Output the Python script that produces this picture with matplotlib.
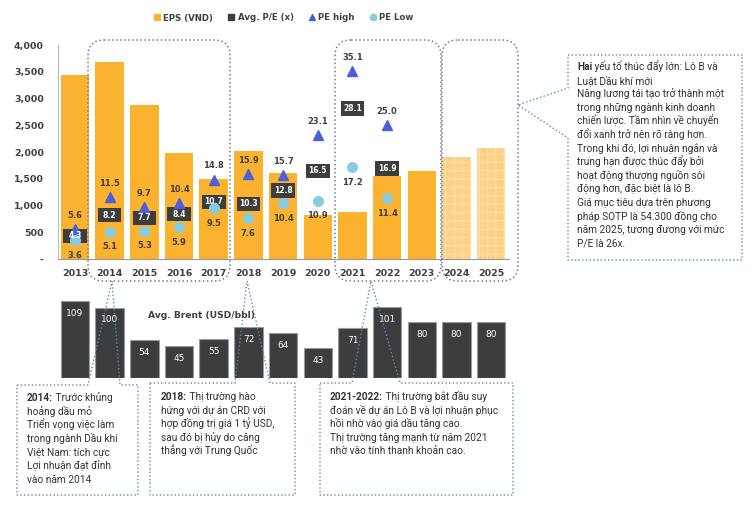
import matplotlib.pyplot as plt
import numpy as np
from matplotlib.lines import Line2D
from matplotlib.patches import FancyBboxPatch, Polygon

plt.rcParams["font.family"] = ["DejaVu Sans"]
plt.rcParams["hatch.linewidth"] = 0.6

years = ["2013", "2014", "2015", "2016", "2017", "2018", "2019",
         "2020", "2021", "2022", "2023", "2024", "2025"]
eps = [3440, 3680, 2880, 1990, 1500, 2010, 1600, 820, 880, 1550, 1650, 1900, 2070]
forecast = [False] * 11 + [True, True]

pe_high = [5.6, 11.5, 9.7, 10.4, 14.8, 15.9, 15.7, 23.1, 35.1, 25.0]
pe_avg = [4.3, 8.2, 7.7, 8.4, 10.7, 10.3, 12.8, 16.5, 28.1, 16.9]
pe_low = [3.6, 5.1, 5.3, 5.9, 9.5, 7.6, 10.4, 10.9, 17.2, 11.4]

brent = [109, 100, 54, 45, 55, 72, 64, 43, 71, 101, 80, 80, 80]

note_2014 = ["Trước khủng", "hoảng dầu mỏ", "Triển vọng việc làm",
             "trong ngành Dầu khí", "Việt Nam: tích cực", "Lợi nhuận đạt đỉnh",
             "vào năm 2014"]
note_2018 = ["Thị trường hào", "hứng với dự án CRD với", "hợp đồng trị giá 1 tỷ USD,",
             "sau đó bị hủy do căng", "thẳng với Trung Quốc"]
note_2021 = ["Thị trường bắt đầu suy", "đoán về dự án Lô B và lợi nhuận phục",
             "hồi nhờ vào giá dầu tăng cao.", "Thị trường tăng mạnh từ năm 2021",
             "nhờ vào tính thanh khoản cao."]
note_right = ["yếu tố thúc đẩy lớn: Lô B và", "Luật Dầu khí mới",
              "Năng lương tái tạo trở thành một", "trong những ngành kinh doanh",
              "chiến lược. Tầm nhìn về chuyển", "đổi xanh trở nên rõ ràng hơn.",
              "Trong khi đó, lợi nhuận ngắn và", "trung hạn được thúc đẩy bởi",
              "hoạt động thượng nguồn sôi", "động hơn, đặc biệt là lô B.",
              "Giá mục tiêu dựa trên phương", "pháp SOTP là 54.300 đồng cho",
              "năm 2025, tương đương với mức", "P/E là 26x."]

ORANGE = "#FBB22E"
LIGHT_ORANGE = "#FDD185"
DARK = "#3D3D3D"
BLUE = "#4A5FE0"
CYAN = "#86CCE0"
TEXT = "#404040"
DOT = "#5E86C0"
NOTE_FONT = ["Roboto", "Noto Sans", "DejaVu Sans"]

W, H = 755, 525
fig = plt.figure(figsize=(W / 100, H / 100), dpi=100)

x = np.arange(len(years))
xlim = (-0.5, len(years) - 0.5)

# top chart: EPS bars + P/E markers
ax = fig.add_axes([57.6 / W, 1 - 259 / H, 451 / W, 214 / H])
for xi, val, fc in zip(x, eps, forecast):
    if fc:
        ax.bar(xi, val, width=0.82, color=LIGHT_ORANGE, edgecolor="#FFE6B8",
               linewidth=0, hatch="++", zorder=2)
    else:
        ax.bar(xi, val, width=0.82, color=ORANGE, linewidth=0, zorder=2)
ax.set_xlim(*xlim)
ax.set_ylim(0, 4000)
ax.set_yticks(range(0, 4001, 500))
ax.set_yticklabels(["-"] + [f"{v:,}" for v in range(500, 4001, 500)])
ax.set_xticks(x)
ax.set_xticklabels(years)
ax.tick_params(axis="both", length=0, labelsize=6.8, colors=TEXT)
ax.tick_params(axis="x", pad=7)
ax.tick_params(axis="y", pad=10)
for lab in ax.get_xticklabels() + ax.get_yticklabels():
    lab.set_fontweight("bold")
for side in ["top", "right"]:
    ax.spines[side].set_visible(False)
ax.spines["left"].set_color("#BBBBBB")
ax.spines["bottom"].set_color("#999999")

ax2 = ax.twinx()
ax2.set_ylim(0, 40)
ax2.set_xlim(*xlim)
ax2.axis("off")
px = x[:len(pe_avg)]
box_h = 2.7
ax2.bar(px, [box_h] * len(pe_avg), bottom=[v - box_h / 2 for v in pe_avg],
        width=0.68, color=DARK, zorder=3)
ax2.plot(px, pe_high, "^", color=BLUE, markersize=7, zorder=4)
ax2.plot(px, pe_low, "o", color=CYAN, markersize=7, zorder=4)
for xi, hi, av, lo in zip(px, pe_high, pe_avg, pe_low):
    ax2.annotate(f"{hi:.1f}", (xi, hi), xytext=(0, 10), textcoords="offset points",
                 ha="center", va="center", fontsize=6, fontweight="bold", color=TEXT)
    ax2.text(xi, av, f"{av:.1f}", ha="center", va="center", fontsize=5.5,
             fontweight="bold", color="white", zorder=5)
    ax2.annotate(f"{lo:.1f}", (xi, lo), xytext=(0, -11), textcoords="offset points",
                 ha="center", va="center", fontsize=6, fontweight="bold", color=TEXT)

handles = [
    Line2D([], [], marker="s", ls="none", color=ORANGE, markersize=5),
    Line2D([], [], marker="s", ls="none", color=DARK, markersize=5),
    Line2D([], [], marker="^", ls="none", color=BLUE, markersize=4.5),
    Line2D([], [], marker="o", ls="none", color=CYAN, markersize=4.5),
]
fig.legend(handles, ["EPS (VND)", "Avg. P/E (x)", "PE high", "PE Low"],
           loc="center", bbox_to_anchor=(283 / W, 1 - 18 / H), ncol=4,
           frameon=False, handletextpad=0.25, columnspacing=1.6,
           handlelength=1.0, labelcolor=TEXT, prop={"weight": "bold", "size": 6.2})

# bottom chart: Brent
axb = fig.add_axes([57.6 / W, 1 - 378 / H, 451 / W, 120 * 0.705 / H])
axb.bar(x, brent, width=0.82, color=DARK, edgecolor="#9A9A9A", linewidth=0.8)
for xi, val in zip(x, brent):
    axb.annotate(str(val), (xi, val), xytext=(0, -9), textcoords="offset points",
                 ha="center", va="center", fontsize=6.5, color="white")
axb.set_xlim(*xlim)
axb.set_ylim(0, 120)
axb.axis("off")
fig.text(148 / W, 1 - 315 / H, "Avg. Brent (USD/bbl)", fontsize=6.6,
         fontweight="bold", color=TEXT, va="center")

# overlay for boxes and notes, pixel coordinates
ov = fig.add_axes([0, 0, 1, 1])
ov.set_xlim(0, W)
ov.set_ylim(H, 0)
ov.axis("off")
ov.patch.set_alpha(0)

for x0, x1 in [(88, 230), (335, 441), (442, 518)]:
    ov.add_patch(FancyBboxPatch((x0, 40), x1 - x0, 241,
                                boxstyle="round,pad=0,rounding_size=16",
                                fill=False, ec="#6C7C95", lw=1.1, ls=":"))

callouts = [
    [(17, 385), (88, 385), (112, 281), (120, 385), (138, 385), (138, 495), (17, 495)],
    [(150, 383), (235, 383), (247, 281), (270, 383), (295, 383), (295, 495), (150, 495)],
    [(320, 383), (352, 383), (371, 281), (400, 383), (513, 383), (513, 495), (320, 495)],
    [(568, 55), (742, 55), (742, 260), (568, 260), (568, 138), (518, 105), (568, 88)],
]
for pts in callouts:
    ov.add_patch(Polygon(pts, closed=True, fill=False, ec=DOT, lw=1.0, ls=":"))

notes = [
    (27, 401, "2014:", note_2014),
    (161, 400, "2018:", note_2018),
    (330, 400, "2021-2022:", note_2021),
    (577, 70, "Hai", note_right),
]
step = 13.6
for nx, ny, head, lines in notes:
    t = ov.text(nx, ny, head, fontsize=7.3, family=NOTE_FONT, fontweight="bold",
                color="#333333", va="baseline")
    ov.annotate(" " + lines[0], xy=(1, 0), xycoords=t, va="bottom", fontsize=7.3,
                family=NOTE_FONT, color="#333333")
    for i, line in enumerate(lines[1:], start=1):
        ov.text(nx, ny + i * step, line, fontsize=7.3, family=NOTE_FONT,
                color="#333333", va="baseline")

fig.savefig("out.png", dpi=100)
